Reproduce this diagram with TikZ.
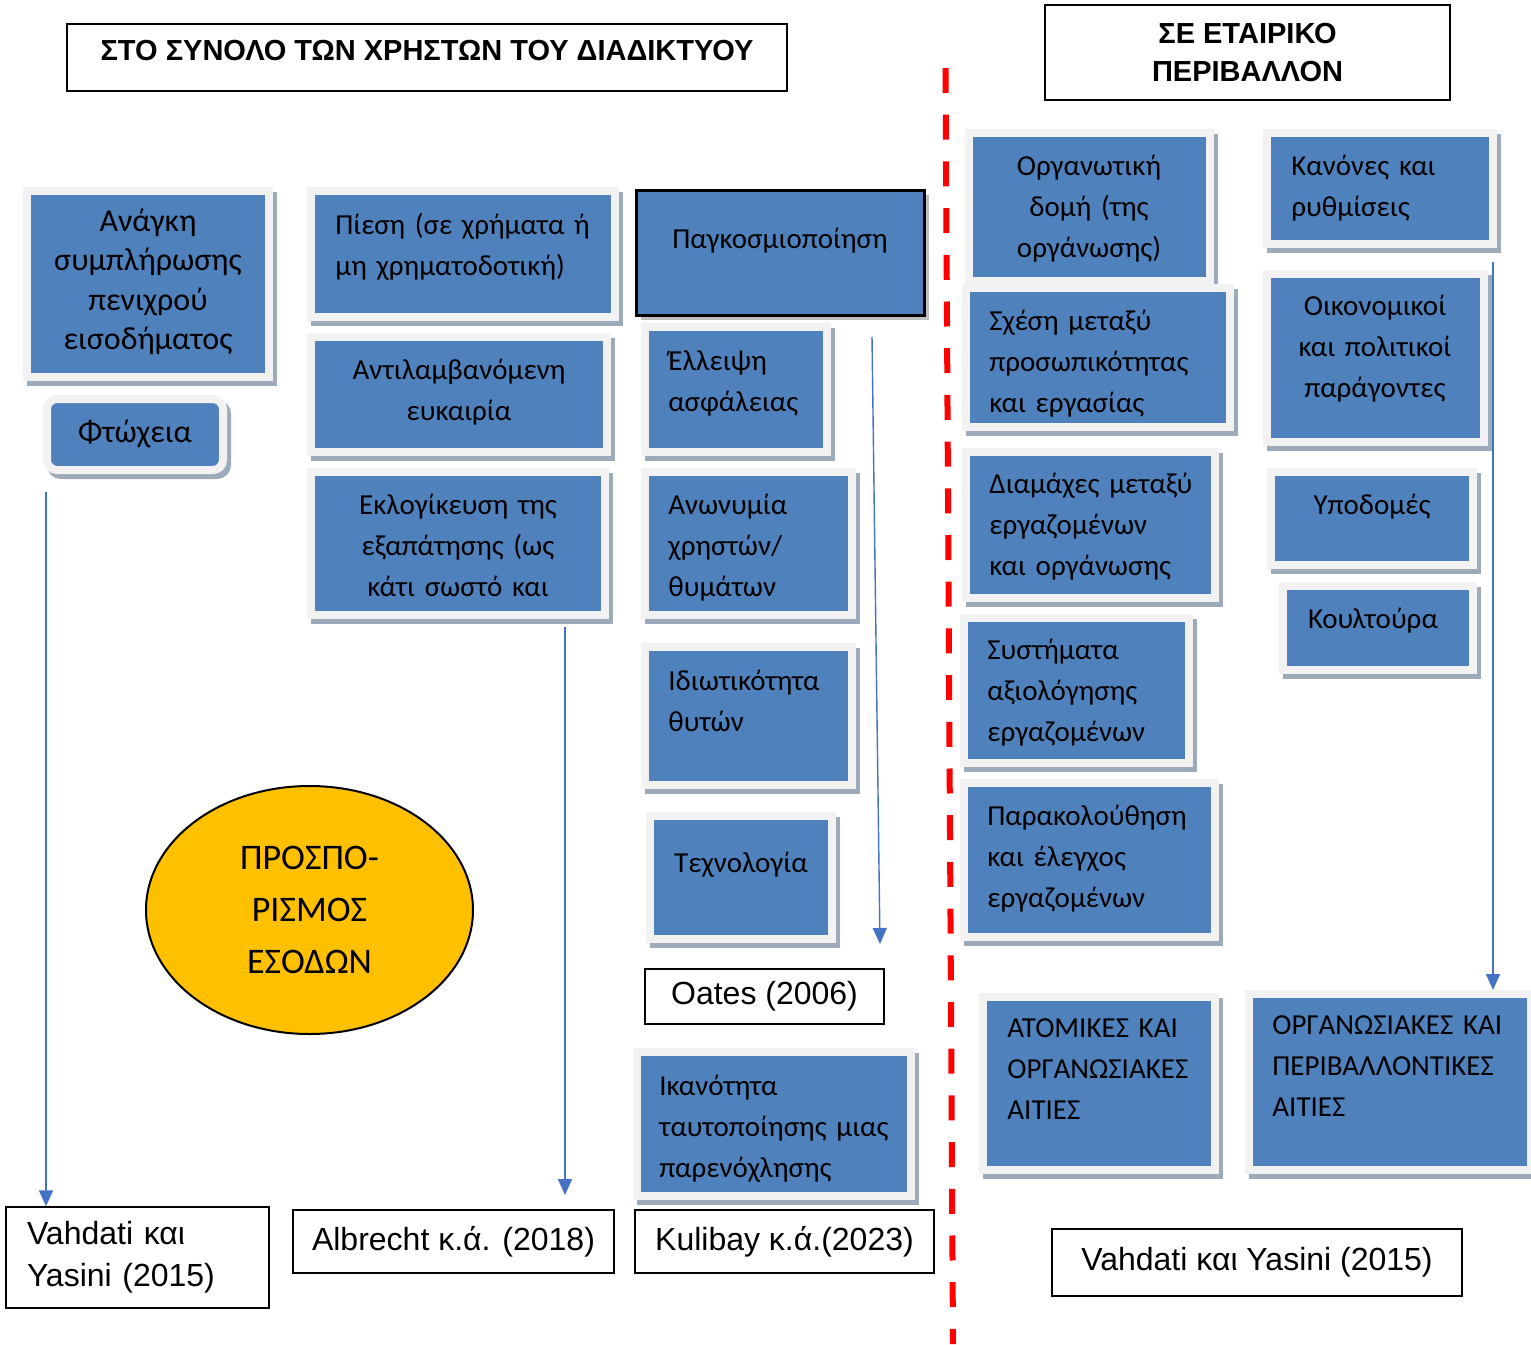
\documentclass[tikz,border=0pt]{standalone}
\usepackage{fontspec}
\setmainfont{Carlito}
\newfontfamily\arialfont{Liberation Sans}
\usepackage{xcolor}
\usetikzlibrary{arrows.meta,shapes.geometric,shadows,fit}

\definecolor{boxblue}{HTML}{4F81BD}
\definecolor{framegray}{HTML}{F2F2F2}
\definecolor{shadowgray}{HTML}{9DAABA}
\definecolor{arrowblue}{HTML}{4472C4}
\definecolor{ovalyellow}{HTML}{FFC000}

\begin{document}
\begin{tikzpicture}[x=0.5pt,y=-0.5pt,
    cause/.style={fill=boxblue, draw=framegray, line width=4pt, inner sep=0pt,
        drop shadow={shadow xshift=2pt, shadow yshift=-2.5pt, fill=shadowgray, draw=shadowgray, opacity=1}},
    mainbox/.style={fill=boxblue, draw=black, line width=1.5pt, inner sep=0pt,
        drop shadow={shadow xshift=2.5pt, shadow yshift=-2.5pt, fill=black!25, opacity=1}},
    ltext/.style={font=\fontsize{14.5}{20.5}\selectfont, inner sep=0pt, text width=150pt, align=left, anchor=base west},
    ctext/.style={font=\fontsize{14.5}{20.5}\selectfont, inner sep=0pt, text width=150pt, align=center, anchor=base},
    refbox/.style={draw=black, line width=0.7pt, inner sep=0pt, font=\arialfont\fontsize{16}{21}\selectfont},
    titlebox/.style={draw=black, line width=0.7pt, inner sep=0pt, font=\arialfont\bfseries\fontsize{14.5}{19}\selectfont},
    oval/.style={ellipse, fill=ovalyellow, draw=black, line width=1pt, minimum width=163.5pt, minimum height=124pt,
        inner sep=0pt, align=center, font=\fontsize{18}{26}\selectfont},
    flow/.style={draw=arrowblue, line width=0.7pt, -{Triangle[width=7pt,length=8pt]}},
    divider/.style={draw=red, line width=3pt, dash pattern=on 12.5pt off 10.85pt}]
\useasboundingbox (0,0) rectangle (1531,1344);

\node[titlebox, minimum width=360pt, minimum height=33.5pt, text height=10.4pt, text depth=7.5pt] (titleL) at (427,57.5) {ΣΤΟ ΣΥΝΟΛΟ ΤΩΝ ΧΡΗΣΤΩΝ ΤΟΥ ΔΙΑΔΙΚΤΥΟΥ};
\node[titlebox, minimum width=202.5pt, minimum height=47.5pt, align=center] (titleR) at (1247.5,52.5) {ΣΕ ΕΤΑΙΡΙΚΟ\\ΠΕΡΙΒΑΛΛΟΝ};

\node[cause, fit={(27,191) (269,377)}] (need) {};
\node[ctext, font=\fontsize{16}{19.75}\selectfont] (needTxt) at (148,231) {Ανάγκη\\συμπλήρωσης\\πενιχρού\\εισοδήματος};
\node[cause, rounded corners=5pt, fit={(47,399) (223,470)}] (poverty) {};
\node[ctext, font=\fontsize{16}{20}\selectfont] (povertyTxt) at (135,442) {Φτώχεια};

\node[cause, fit={(311,191) (615,317)}] (pressure) {};
\node[ltext] (pressureTxt) at (335,234) {Πίεση (σε χρήματα ή\\μη χρηματοδοτική)};
\node[cause, fit={(311,337) (607,452)}] (chance) {};
\node[ctext] (chanceTxt) at (459,379) {Αντιλαμβανόμενη\\ευκαιρία};
\node[cause, fit={(311,472) (605,615)}] (excuse) {};
\node[ctext] (excuseTxt) at (458,514) {Εκλογίκευση της\\εξαπάτησης (ως\\κάτι σωστό και};

\node[mainbox, fit={(636,190) (924,315)}] (global) {};
\node[ctext] (globalTxt) at (780,248) {Παγκοσμιοποίηση};
\node[cause, fit={(645,327) (827,452)}] (security) {};
\node[ltext] (securityTxt) at (668,370) {Έλλειψη\\ασφάλειας};
\node[cause, fit={(645,472) (852,615)}] (anonym) {};
\node[ltext] (anonymTxt) at (668,514) {Ανωνυμία\\χρηστών/\\θυμάτων};
\node[cause, fit={(645,647) (852,785)}] (privacy) {};
\node[ltext] (privacyTxt) at (668,690) {Ιδιωτικότητα\\θυτών};
\node[cause, fit={(650,816) (832,939)}] (tech) {};
\node[ctext] (techTxt) at (741,872) {Τεχνολογία};
\node[cause, fit={(637,1052) (911,1196)}] (detect) {};
\node[ltext] (detectTxt) at (659,1095) {Ικανότητα\\ταυτοποίησης μιας\\παρενόχλησης};

\node[refbox, minimum width=119.5pt, minimum height=27.5pt] (oates) at (764.5,996.5) {Oates (2006)};
\node[refbox, minimum width=160.5pt, minimum height=31.5pt] (albrecht) at (453.5,1241.5) {Albrecht κ.ά. (2018)};
\node[refbox, minimum width=149.5pt, minimum height=31.5pt] (kulibay) at (784.5,1241.5) {Kulibay κ.ά.(2023)};
\node[refbox, minimum width=131.5pt, minimum height=50.5pt, text width=110.5pt, align=left] (vahL) at (137.5,1257.5) {Vahdati και\\Yasini (2015)};

\node[oval] (income) at (309.5,910) {ΠΡΟΣΠΟ-\\ΡΙΣΜΟΣ\\ΕΣΟΔΩΝ};

\node[cause, fit={(969,133) (1210,281)}] (structure) {};
\node[ctext] (structureTxt) at (1089,175) {Οργανωτική\\δομή (της\\οργάνωσης)};
\node[cause, fit={(966,288) (1230,427)}] (person) {};
\node[ltext] (personTxt) at (989,330) {Σχέση μεταξύ\\προσωπικότητας\\και εργασίας};
\node[cause, fit={(966,452) (1215,598)}] (conflict) {};
\node[ltext] (conflictTxt) at (989,493) {Διαμάχες μεταξύ\\εργαζομένων\\και οργάνωσης};
\node[cause, fit={(964,618) (1189,763)}] (appraisal) {};
\node[ltext] (appraisalTxt) at (987,659) {Συστήματα\\αξιολόγησης\\εργαζομένων};
\node[cause, fit={(964,783) (1215,937)}] (monitor) {};
\node[ltext] (monitorTxt) at (987,825) {Παρακολούθηση\\και έλεγχος\\εργαζομένων};
\node[cause, fit={(983,997) (1215,1170)}] (indiv) {};
\node[ltext] (indivTxt) at (1007,1037) {ΑΤΟΜΙΚΕΣ ΚΑΙ\\ΟΡΓΑΝΩΣΙΑΚΕΣ\\ΑΙΤΙΕΣ};

\node[cause, fit={(1267,133) (1493,244)}] (rules) {};
\node[ltext] (rulesTxt) at (1291,175) {Κανόνες και\\ρυθμίσεις};
\node[cause, fit={(1267,274) (1484,442)}] (economy) {};
\node[ctext] (economyTxt) at (1375,315) {Οικονομικοί\\και πολιτικοί\\παράγοντες};
\node[cause, fit={(1271,472) (1473,565)}] (infra) {};
\node[ctext] (infraTxt) at (1372,514) {Υποδομές};
\node[cause, fit={(1283,586) (1473,670)}] (culture) {};
\node[ctext] (cultureTxt) at (1373,628) {Κουλτούρα};
\node[cause, fit={(1249,994) (1531,1170)}] (envir) {};
\node[ltext] (envirTxt) at (1272,1034) {ΟΡΓΑΝΩΣΙΑΚΕΣ ΚΑΙ\\ΠΕΡΙΒΑΛΛΟΝΤΙΚΕΣ\\ΑΙΤΙΕΣ};

\node[refbox, minimum width=205pt, minimum height=33.5pt] (vahR) at (1257,1262.5) {Vahdati και Yasini (2015)};

\coordinate (d1) at (945.5,68);
\coordinate (d2) at (953,1344);
\draw[divider] (d1) -- (d2);

\coordinate (a1) at (46,492);
\coordinate (a2) at (565,627);
\coordinate (a2e) at (565,1195);
\coordinate (a3) at (872,337);
\coordinate (a3e) at (880,944);
\coordinate (a4) at (1493,262);
\draw[flow] (a1) -- (a1 |- vahL.north);
\draw[flow] (a2) -- (a2e);
\draw[flow] (a3) -- (a3e);
\draw[flow] (a4) -- (a4 |- envir.north);
\end{tikzpicture}
\end{document}
